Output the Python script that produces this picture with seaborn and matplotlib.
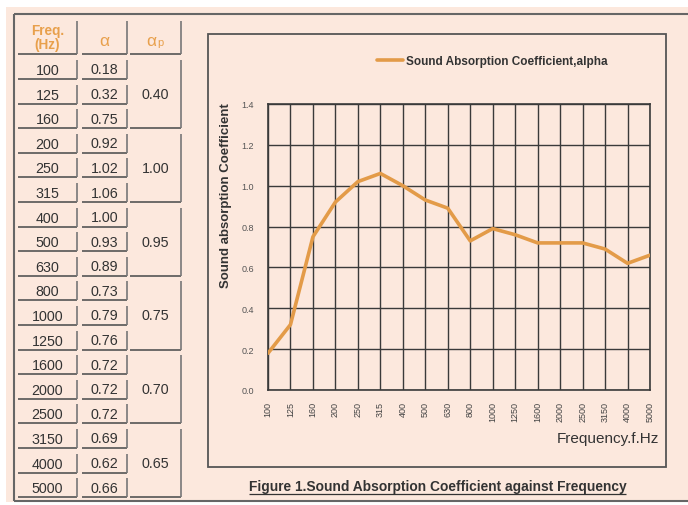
import numpy as np
import pandas as pd
import matplotlib
matplotlib.use("Agg")
import matplotlib.pyplot as plt
from matplotlib.lines import Line2D
from matplotlib.patches import Rectangle
import seaborn as sns

# table / chart data
freqs = ["100", "125", "160", "200", "250", "315", "400", "500", "630",
         "800", "1000", "1250", "1600", "2000", "2500", "3150", "4000", "5000"]
alpha = [0.18, 0.32, 0.75, 0.92, 1.02, 1.06, 1.00, 0.93, 0.89,
         0.73, 0.79, 0.76, 0.72, 0.72, 0.72, 0.69, 0.62, 0.66]
alpha_p = [0.40, 1.00, 0.95, 0.75, 0.70, 0.65]
y_ticks = [0.0, 0.2, 0.4, 0.6, 0.8, 1.0, 1.2, 1.4]

BG = "#FCE8DD"
ORANGE = "#E8A04C"
LINE = "#E39B48"
DARK = "#3a3a3a"

sns.set_style("white")
plt.rcParams["font.family"] = ["Liberation Sans", "DejaVu Sans"]

W, H = 688, 506
fig = plt.figure(figsize=(W / 100, H / 100), dpi=100, facecolor="white")


def fx(px):
    return px / W


def fy(py):
    return 1 - py / H


def hline(x0, x1, y, color="#555555", lw=1.2):
    fig.add_artist(Line2D([fx(x0), fx(x1)], [fy(y), fy(y)], transform=fig.transFigure,
                          color=color, lw=lw, solid_capstyle="butt"))


def vline(x, y0, y1, color="#777777", lw=1.2):
    fig.add_artist(Line2D([fx(x), fx(x)], [fy(y0), fy(y1)], transform=fig.transFigure,
                          color=color, lw=lw, solid_capstyle="butt"))


# page background + outer border
fig.add_artist(Rectangle((fx(6), fy(503)), fx(688) - fx(6), fy(8) - fy(503),
                         transform=fig.transFigure, facecolor=BG, edgecolor="none", zorder=-10))
hline(14, 688, 15, color="#666666", lw=1.5)
hline(14, 688, 502, color="#666666", lw=1.5)
vline(14, 15, 502, color="#666666", lw=1.5)

# ---- table on the left ----
cols = [(18, 77), (82, 127), (130, 181)]
# header
for (x0, x1) in cols:
    hline(x0, x1, 55)
    vline(x1, 22, 55)
fig.text(fx(47.5), fy(38), "Freq.\n(Hz)", color=ORANGE, fontsize=9.8, fontweight="bold",
         ha="center", va="center", linespacing=1.05)
fig.text(fx(104.5), fy(41), "α", color=ORANGE, fontsize=12.5, ha="center", va="center")
fig.text(fx(151), fy(41), "α", color=ORANGE, fontsize=12.5, ha="center", va="center")
fig.text(fx(160), fy(43.5), "p", color=ORANGE, fontsize=8, ha="center", va="center")

row_h = 24.6
for i, (f, a) in enumerate(zip(freqs, alpha)):
    bottom = 80 + row_h * i
    for (x0, x1) in cols[:2]:
        hline(x0, x1, bottom)
        vline(x1, bottom - 19, bottom)
    fig.text(fx(47.5), fy(bottom - 9), f, color="#333333", fontsize=10.3,
             ha="center", va="center")
    fig.text(fx(104.5), fy(bottom - 9.5), f"{a:.2f}", color="#333333", fontsize=10.3,
             ha="center", va="center")

for g, ap in enumerate(alpha_p):
    top = 80 + row_h * (3 * g) - 19
    bottom = 80 + row_h * (3 * g + 2)
    x0, x1 = cols[2]
    hline(x0, x1, bottom)
    vline(x1, top, bottom)
    mid = 80 + row_h * (3 * g + 1)
    fig.text(fx(155.5), fy(mid - 9.5), f"{ap:.2f}", color="#333333", fontsize=10.3,
             ha="center", va="center")

# ---- chart frame ----
fig.add_artist(Rectangle((fx(208), fy(468)), fx(666) - fx(208), fy(35) - fy(468),
                         transform=fig.transFigure, facecolor="none",
                         edgecolor="#555555", lw=1.3))

ax = fig.add_axes([fx(268), fy(391), fx(650) - fx(268), fy(105) - fy(391)])
ax.set_facecolor(BG)

df = pd.DataFrame({"freq": freqs, "alpha": alpha})
sns.lineplot(data=df, x="freq", y="alpha", sort=False, color=LINE, lw=2.6,
             label="Sound Absorption Coefficient,alpha", ax=ax, zorder=3)

ax.set_xlim(0, len(freqs) - 1)
ax.set_ylim(0, 1.4)
ax.set_yticks(y_ticks)
ax.set_yticklabels([f"{t:.1f}" for t in y_ticks])
ax.grid(True, color=DARK, lw=1.0)
ax.set_axisbelow(True)
for s in ax.spines.values():
    s.set_visible(True)
    s.set_color(DARK)
    s.set_linewidth(1.2)
ax.tick_params(axis="y", length=0, pad=10, labelsize=6.5, labelcolor="#555555")
ax.tick_params(axis="x", length=0, pad=8, labelsize=6.5, labelcolor="#444444",
               labelrotation=90)
ax.set_xlabel("")
ax.set_ylabel("")

fig.text(fx(226), fy(196), "Sound absorption Coefficient", fontsize=9.5, fontweight="bold",
         color="#333333", rotation=90, ha="center", va="center")
fig.text(fx(659), fy(439), "Frequency.f.Hz", fontsize=11, color="#333333",
         ha="right", va="center")

ax.legend(loc="center left", bbox_to_anchor=(fx(377), fy(62)),
          bbox_transform=fig.transFigure, frameon=False, handlelength=2.2,
          handletextpad=0.25, borderpad=0, borderaxespad=0,
          prop={"weight": "bold", "size": 8.5})
for t in ax.get_legend().get_texts():
    t.set_color("#333333")
for h in ax.get_legend().get_lines():
    h.set_linewidth(2.6)

# caption, underlined
cap = fig.text(fx(437.5), fy(487), "Figure 1.Sound Absorption Coefficient against Frequency",
               fontsize=9.9, fontweight="bold", color="#333333", ha="center", va="center")
fig.canvas.draw()
bb = cap.get_window_extent()
hline(bb.x0, bb.x1, H - bb.y0 + 0.5, color="#333333", lw=0.9)

fig.savefig("out.png", dpi=100, facecolor="white")
